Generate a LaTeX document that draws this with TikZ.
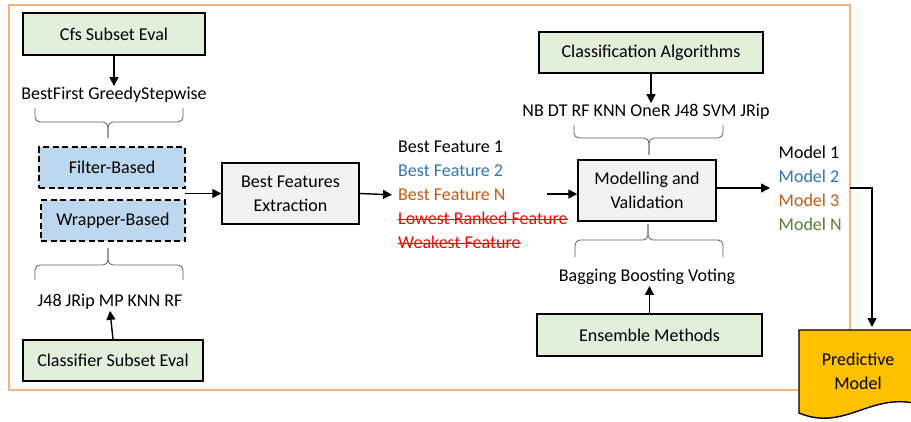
\documentclass[tikz,border=0pt]{standalone}
\usepackage{fontspec}
\setmainfont{Carlito}
\usetikzlibrary{arrows.meta}
\definecolor{framec}{HTML}{F4B183}
\definecolor{greenfill}{HTML}{E2EFDA}
\definecolor{bluefill}{HTML}{BDD7EE}
\definecolor{grayfill}{HTML}{F2F2F2}
\definecolor{bluetxt}{HTML}{2E75B6}
\definecolor{orangetxt}{HTML}{C55A11}
\definecolor{greentxt}{HTML}{548235}
\definecolor{redtxt}{HTML}{FF0000}
\definecolor{goldfill}{HTML}{FFC000}
\definecolor{bracec}{HTML}{595959}
\newcommand\strk[1]{\leavevmode\setbox0\hbox{#1}\rlap{\rule[0.26em]{\wd0}{0.9pt}}\box0}
\tikzset{
  x=1pt, y=-1pt,
  every node/.style={font=\fontsize{18}{24}\selectfont},
  greenbox/.style={draw=black, line width=1.4pt, fill=greenfill, inner sep=0pt},
  bluebox/.style={draw=black, line width=1.4pt, fill=bluefill, dash pattern=on 6pt off 3.5pt, inner sep=0pt},
  graybox/.style={draw=black, line width=1.4pt, fill=grayfill, inner sep=0pt, align=center},
  txt/.style={inner sep=1pt},
  arr/.style={-{Triangle[length=9pt,width=9pt]}, line width=1.4pt},
  brc/.style={draw=bracec, line width=0.8pt, rounded corners=5pt},
}
\newcommand\mybrace[6]{%
  \draw[brc] (#1,#4) -- (#1,#5) -- (#3,#5) -- (#3,#6);
  \draw[brc] (#2,#4) -- (#2,#5) -- (#3,#5) -- (#3,#6);
}
\begin{document}
\begin{tikzpicture}
\useasboundingbox (0,0) rectangle (911,421);
% frame
\draw[framec, line width=1.2pt] (9,5) rectangle (850,390);

% left column
\node[greenbox, minimum width=182pt, minimum height=42pt] (cfs) at (114,34) {Cfs Subset Eval};
\node[txt] (bfgs) at (114,95) {BestFirst GreedyStepwise};
\mybrace{35}{183}{108}{108}{122}{138}
\node[bluebox, minimum width=146pt, minimum height=41pt] (filter) at (112,167.5) {Filter-Based};
\node[bluebox, minimum width=144pt, minimum height=41pt] (wrapper) at (113,220.5) {Wrapper-Based};
\mybrace{35}{183}{108}{280}{265}{248}
\node[txt] (j48) at (110,302) {J48 JRip MP KNN RF};
\node[greenbox, minimum width=180pt, minimum height=41pt] (clf) at (113,360.5) {Classifier Subset Eval};

\draw[arr] (cfs.south) -- (bfgs.north);
\draw[arr] (clf.north) -- (j48.south);

% best features extraction
\coordinate (fw) at (185,193.5);
\node[graybox, minimum width=137pt, minimum height=61pt] (bfe) at (290.5,193.5) {Best Features\\Extraction};
\draw[arr] (fw) -- (bfe.west);

\node[txt, anchor=west, align=left] (feats) at (397,195) {Best Feature 1\\
\textcolor{bluetxt}{Best Feature 2}\\
\textcolor{orangetxt}{Best Feature N}\\
\textcolor{redtxt}{\strk{Lowest Ranked Feature}}\\
\textcolor{redtxt}{\strk{Weakest Feature}}};
\draw[arr, shorten >=5pt] (bfe.east) -- (feats.west);

% modelling
\node[greenbox, minimum width=224pt, minimum height=41pt] (ca) at (651,52.5) {Classification Algorithms};
\node[txt] (nb) at (646,112) {NB DT RF KNN OneR J48 SVM JRip};
\mybrace{574}{723}{649}{125}{138}{155}
\node[graybox, minimum width=138pt, minimum height=61pt] (mv) at (647,190.5) {Modelling and\\Validation};
\coordinate (fin) at (547,194);
\draw[arr] (fin) -- (mv.west |- fin);
\mybrace{575}{723}{648}{257}{240}{224}
\node[txt] (bbv) at (647,277) {Bagging Boosting Voting};
\node[greenbox, minimum width=225pt, minimum height=42pt] (em) at (649.5,335) {Ensemble Methods};
\draw[arr] (ca.south) -- (ca.south |- nb.north);
\draw[arr] (em.north) -- (em.north |- bbv.south);

\node[txt, anchor=west, align=left, minimum width=80pt] (models) at (770,188) {Model 1\\
\textcolor{bluetxt}{Model 2}\\
\textcolor{orangetxt}{Model 3}\\
\textcolor{greentxt}{Model N}};
\draw[arr] (mv.east |- models.west) -- (models.west);

% predictive model
\draw[line width=1.4pt, fill=goldfill] (799,330) -- (918,330) -- (918,404)
  .. controls (870,392) and (845,432) .. (799,413) -- cycle;
\node[align=center, inner sep=0pt] (pm) at (858,371) {Predictive\\Model};
\coordinate (pmtop) at (872,327);
\draw[arr] (models.east) -| (pmtop);
\end{tikzpicture}
\end{document}
